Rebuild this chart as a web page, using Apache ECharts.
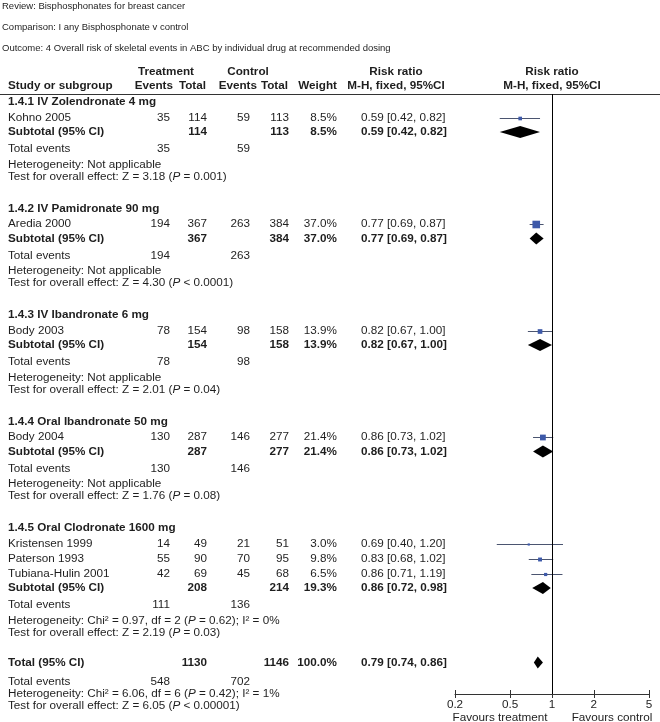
<!DOCTYPE html>
<html><head><meta charset="utf-8">
<script src="https://cdn.jsdelivr.net/npm/echarts@6/dist/echarts.min.js"></script>
<style>html,body{margin:0;padding:0;background:#fff}#c{width:660px;height:722px}</style>
</head><body><div id="c"></div>
<script>
// ================= DATA =================
const titleLines = [
  'Review: Bisphosphonates for breast cancer',
  'Comparison: I any Bisphosphonate v control',
  'Outcome: 4 Overall risk of skeletal events in ABC by individual drug at recommended dosing'
];
const groupNames = [
  '1.4.1 IV Zolendronate 4 mg',
  '1.4.2 IV Pamidronate 90 mg',
  '1.4.3 IV Ibandronate 6 mg',
  '1.4.4 Oral Ibandronate 50 mg',
  '1.4.5 Oral Clodronate 1600 mg'
];
const studyNames = ['Kohno 2005','Aredia 2000','Body 2003','Body 2004','Kristensen 1999','Paterson 1993','Tubiana-Hulin 2001'];
const studyGroup = [0,1,2,3,4,4,4];
const tEvents = [35,194,78,130,14,55,42];
const tTotal  = [114,367,154,287,49,90,69];
const cEvents = [59,263,98,146,21,70,45];
const cTotal  = [113,384,158,277,51,95,68];
const weight  = [8.5,37.0,13.9,21.4,3.0,9.8,6.5];
const rr      = [0.59,0.77,0.82,0.86,0.69,0.83,0.86];
const rrLo    = [0.42,0.69,0.67,0.73,0.40,0.68,0.71];
const rrHi    = [0.82,0.87,1.00,1.02,1.20,1.02,1.19];
// point estimate positions as drawn in the picture
const markEst = [0.59,0.77,0.82,0.86,0.68,0.82,0.90];

const subTEvents = [35,194,78,130,111];
const subCEvents = [59,263,98,146,136];
const subTTotal  = [114,367,154,287,208];
const subCTotal  = [113,384,158,277,214];
const subWeight  = [8.5,37.0,13.9,21.4,19.3];
const subRR      = [0.59,0.77,0.82,0.86,0.86];
const subLo      = [0.42,0.69,0.67,0.73,0.72];
const subHi      = [0.82,0.87,1.00,1.02,0.98];
const subHetChi  = [null,null,null,null,0.97];
const subHetDf   = [null,null,null,null,2];
const subHetP    = [null,null,null,null,'0.62'];
const subHetI2   = [null,null,null,null,0];
const subZ       = [3.18,4.30,2.01,1.76,2.19];
const subP       = ['= 0.001','< 0.0001','= 0.04','= 0.08','= 0.03'];

const totTTotal = 1130, totCTotal = 1146, totWeight = 100.0;
const totRR = 0.79, totLo = 0.74, totHi = 0.86;
const totTEvents = 548, totCEvents = 702;
const totHetChi = 6.06, totHetDf = 6, totHetP = '0.42', totHetI2 = 1;
const totZ = 6.05, totP = '< 0.00001';

const tickValues = [0.2,0.5,1,2,5];
const tickLabels = ['0.2','0.5','1','2','5'];
const axisMin = 0.2, axisMax = 5;
const favourLeft = 'Favours treatment', favourRight = 'Favours control';

// ================= LAYOUT =================
const FF = '"Liberation Sans", Arial, Helvetica, sans-serif';
const FS = 11.7;
const TXT = '#1e1e1e';
const L = { firstHeaderY: 102, headToStudy: 15.5, studyStep: 15, studyToSub: 14.5, subToEvents: 17,
  eventsToHet: 15.5, hetToTest: 12, testToNext: 32, testToTotal: 30, totToEvents: 19, totEventsToHet: 12, totHetToTest: 12,
  plotTop: 94, plotBottom: 694, plotLeft: 455, plotRight: 649 };
const COL = { study: 8, te: 170, tt: 207, ce: 250, ct: 289, w: 337, rr: 361 };

let y = L.firstHeaderY;
const groupY = [], studyY = [], subY = [], evY = [], hetY = [], testY = [];
groupNames.forEach((g, gi) => {
  if (gi > 0) y += L.testToNext;
  groupY.push(y);
  y += L.headToStudy;
  let first = true;
  studyNames.forEach((s, si) => {
    if (studyGroup[si] !== gi) return;
    if (!first) y += L.studyStep;
    first = false;
    studyY[si] = y;
  });
  y += L.studyToSub; subY.push(y);
  y += L.subToEvents; evY.push(y);
  y += L.eventsToHet; hetY.push(y);
  y += L.hetToTest; testY.push(y);
});
y += L.testToTotal; const totY = y;
y += L.totToEvents; const totEvY = y;
y += L.totEventsToHet; const totHetY = y;
y += L.totHetToTest; const totTestY = y;

// ================= TEXT =================
const els = [];
function tok(bold, italic, size) {
  return { fontFamily: FF, fontSize: size || FS, fontWeight: bold ? 'bold' : 'normal', fontStyle: italic ? 'italic' : 'normal', fill: TXT, color: TXT };
}
function txt(x, yy, str, align, bold, size) {
  // '*' toggles italic
  const parts = String(str).split('*');
  let s = '';
  parts.forEach((p, i) => { if (p.length) s += '{' + (i % 2 ? 'i' : 'n') + '|' + p + '}'; });
  els.push({
    type: 'text', x: x, y: yy, silent: true,
    style: Object.assign({
      text: s, align: align || 'left', verticalAlign: 'middle', textAlign: align || 'left', textVerticalAlign: 'middle',
      rich: { n: tok(bold, false, size), i: tok(bold, true, size) }
    }, tok(bold, false, size))
  });
}
const fmt2 = v => v.toFixed(2);
const ci = (e, l, h) => fmt2(e) + ' [' + fmt2(l) + ', ' + fmt2(h) + ']';
const pct = v => v.toFixed(1) + '%';

[6, 27, 48].forEach((yy, i) => txt(2, yy, titleLines[i], 'left', false, 9.5));

// column headers
txt(166, 72, 'Treatment', 'center', true);
txt(248, 72, 'Control', 'center', true);
txt(396, 72, 'Risk ratio', 'center', true);
txt(552, 72, 'Risk ratio', 'center', true);
txt(COL.study, 86, 'Study or subgroup', 'left', true);
txt(173, 86, 'Events', 'right', true);
txt(206, 86, 'Total', 'right', true);
txt(257, 86, 'Events', 'right', true);
txt(288, 86, 'Total', 'right', true);
txt(337, 86, 'Weight', 'right', true);
txt(396, 86, 'M-H, fixed, 95%CI', 'center', true);
txt(552, 86, 'M-H, fixed, 95%CI', 'center', true);

groupNames.forEach((g, gi) => {
  txt(COL.study, groupY[gi], g, 'left', true);
  studyNames.forEach((s, si) => {
    if (studyGroup[si] !== gi) return;
    const yy = studyY[si];
    txt(COL.study, yy, s, 'left', false);
    txt(COL.te, yy, tEvents[si], 'right');
    txt(COL.tt, yy, tTotal[si], 'right');
    txt(COL.ce, yy, cEvents[si], 'right');
    txt(COL.ct, yy, cTotal[si], 'right');
    txt(COL.w, yy, pct(weight[si]), 'right');
    txt(COL.rr, yy, ci(rr[si], rrLo[si], rrHi[si]), 'left');
  });
  txt(COL.study, subY[gi], 'Subtotal (95% CI)', 'left', true);
  txt(COL.tt, subY[gi], subTTotal[gi], 'right', true);
  txt(COL.ct, subY[gi], subCTotal[gi], 'right', true);
  txt(COL.w, subY[gi], pct(subWeight[gi]), 'right', true);
  txt(COL.rr, subY[gi], ci(subRR[gi], subLo[gi], subHi[gi]), 'left', true);
  txt(COL.study, evY[gi], 'Total events', 'left');
  txt(COL.te, evY[gi], subTEvents[gi], 'right');
  txt(COL.ce, evY[gi], subCEvents[gi], 'right');
  const het = subHetChi[gi] == null ? 'Heterogeneity: Not applicable'
    : 'Heterogeneity: Chi\u00B2 = ' + fmt2(subHetChi[gi]) + ', df = ' + subHetDf[gi] + ' (*P* = ' + subHetP[gi] + '); I\u00B2 = ' + subHetI2[gi] + '%';
  txt(COL.study, hetY[gi], het, 'left');
  txt(COL.study, testY[gi], 'Test for overall effect: Z = ' + fmt2(subZ[gi]) + ' (*P* ' + subP[gi] + ')', 'left');
});
txt(COL.study, totY, 'Total (95% CI)', 'left', true);
txt(COL.tt, totY, totTTotal, 'right', true);
txt(COL.ct, totY, totCTotal, 'right', true);
txt(COL.w, totY, pct(totWeight), 'right', true);
txt(COL.rr, totY, ci(totRR, totLo, totHi), 'left', true);
txt(COL.study, totEvY, 'Total events', 'left');
txt(COL.te, totEvY, totTEvents, 'right');
txt(COL.ce, totEvY, totCEvents, 'right');
txt(COL.study, totHetY, 'Heterogeneity: Chi\u00B2 = ' + fmt2(totHetChi) + ', df = ' + totHetDf + ' (*P* = ' + totHetP + '); I\u00B2 = ' + totHetI2 + '%', 'left');
txt(COL.study, totTestY, 'Test for overall effect: Z = ' + fmt2(totZ) + ' (*P* ' + totP + ')', 'left');

txt(500, 718, favourLeft, 'center');
txt(612, 718, favourRight, 'center');

// header rule
els.push({ type: 'line', silent: true, shape: { x1: 0, y1: L.plotTop + 0.5, x2: 660, y2: L.plotTop + 0.5 }, style: { stroke: '#333', lineWidth: 1 } });

// ================= CHART =================
const crisp = v => Math.round(v) + 0.5;
const studyData = studyNames.map((s, i) => [markEst[i], rrLo[i], rrHi[i], weight[i], studyY[i]]);
const diamondData = subRR.map((v, i) => [v, subLo[i], subHi[i], subY[i]]).concat([[totRR, totLo, totHi, totY]]);

const labelFmt = v => {
  let best = 0;
  tickValues.forEach((t, i) => { if (Math.abs(Math.log(t / v)) < Math.abs(Math.log(tickValues[best] / v))) best = i; });
  return tickLabels[best];
};
const baseX = {
  type: 'log', logBase: 10, min: axisMin, max: axisMax, position: 'bottom',
  axisLine: { show: true, lineStyle: { color: '#333', width: 1 } },
  splitLine: { show: false }, minorTick: { show: false }
};

const chart = echarts.init(document.getElementById('c'), null, { renderer: 'canvas' });
chart.setOption({
  animation: false,
  backgroundColor: '#fff',
  grid: { left: L.plotLeft, top: L.plotTop, width: L.plotRight - L.plotLeft, height: L.plotBottom - L.plotTop, containLabel: false, outerBoundsMode: 'none' },
  xAxis: [
    Object.assign({}, baseX, {
      axisTick: { show: true, length: 4, customValues: tickValues, lineStyle: { color: '#333' } },
      axisLabel: { show: true, customValues: tickValues, formatter: labelFmt, margin: 5, fontFamily: FF, fontSize: FS, color: TXT, hideOverlap: false }
    }),
    Object.assign({}, baseX, {
      axisLine: { show: false },
      axisTick: { show: true, inside: true, length: 4, customValues: tickValues, lineStyle: { color: '#333' } },
      axisLabel: { show: false }
    })
  ],
  yAxis: { type: 'value', min: L.plotTop, max: L.plotBottom, inverse: true, show: false },
  graphic: { elements: els },
  series: [
    {
      type: 'custom', xAxisIndex: 0, yAxisIndex: 0, silent: true, clip: false,
      data: studyData, encode: { x: [0, 1, 2], y: 4 },
      renderItem: (params, api) => {
        const yy = api.value(4);
        const p0 = api.coord([api.value(1), yy]);
        const p1 = api.coord([api.value(2), yy]);
        const pc = api.coord([api.value(0), yy]);
        const s = 1.25 * Math.sqrt(api.value(3));
        const cy = crisp(pc[1]);
        return { type: 'group', children: [
          { type: 'line', shape: { x1: p0[0], y1: cy, x2: p1[0], y2: cy }, style: { stroke: '#4b5570', lineWidth: 1 } },
          { type: 'rect', shape: { x: pc[0] - s / 2, y: cy - s / 2, width: s, height: s }, style: { fill: '#3d59a9' } }
        ] };
      },
      markLine: {
        silent: true, symbol: 'none', animation: false, label: { show: false },
        lineStyle: { color: '#000', width: 1, type: 'solid' },
        data: [[{ coord: [1, L.plotTop] }, { coord: [1, L.plotBottom] }]]
      }
    },
    {
      type: 'custom', xAxisIndex: 0, yAxisIndex: 0, silent: true, clip: false,
      data: diamondData, encode: { x: [0, 1, 2], y: 3 },
      renderItem: (params, api) => {
        const yy = api.value(3);
        const pe = api.coord([api.value(0), yy]);
        const pl = api.coord([api.value(1), yy]);
        const ph = api.coord([api.value(2), yy]);
        const h = 6;
        return { type: 'polygon', shape: { points: [[pl[0], pe[1]], [pe[0], pe[1] - h], [ph[0], pe[1]], [pe[0], pe[1] + h]] }, style: { fill: '#000' } };
      }
    }
  ]
});
</script>
</body></html>
